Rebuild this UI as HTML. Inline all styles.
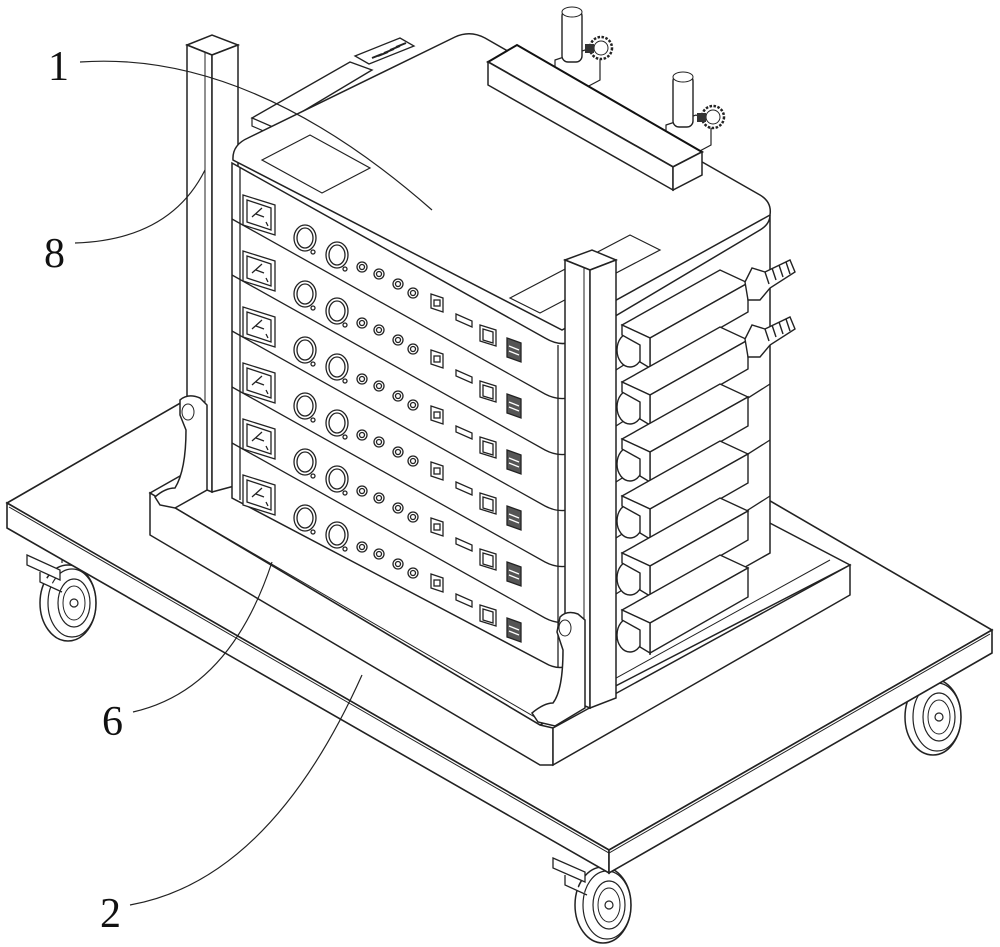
<!DOCTYPE html>
<html><head><meta charset="utf-8"><style>
html,body{margin:0;padding:0;background:#fff;}
svg{display:block}
text{font-family:"Liberation Serif",serif;font-size:42px;fill:#111}
</style></head><body>
<svg width="1000" height="947" viewBox="0 0 1000 947" xmlns="http://www.w3.org/2000/svg">
<defs>
<g id="wheel">
 <ellipse cx="0" cy="0" rx="28" ry="38" fill="#fff" stroke="#222" stroke-width="1.5"/>
 <ellipse cx="4" cy="0" rx="24" ry="34" fill="none" stroke="#222" stroke-width="1.2"/>
 <ellipse cx="6" cy="0" rx="16" ry="24" fill="none" stroke="#222" stroke-width="1.2"/>
 <ellipse cx="6" cy="0" rx="11" ry="17" fill="none" stroke="#222" stroke-width="1"/>
 <circle cx="6" cy="0" r="4" fill="#fff" stroke="#222" stroke-width="1.2"/>
 <path d="M-6,-40 L-6,-58 M14,-40 L14,-60" stroke="#222" stroke-width="1.2"/>
</g>
<g id="icons" fill="#fff" stroke="#222" stroke-width="1.3">
 <polygon points="243,195 275,205 275,235 243,225"/>
 <polygon points="247,200 271,208 271,230 247,222"/>
 <path d="M252,217 L262,208 M256,214 l8,3 M266,222 l2,4" fill="none"/>
 <ellipse cx="305" cy="238" rx="11" ry="13"/><ellipse cx="305" cy="238" rx="8" ry="10"/>
 <circle cx="313" cy="252" r="2"/>
 <ellipse cx="337" cy="255" rx="11" ry="13"/><ellipse cx="337" cy="255" rx="8" ry="10"/>
 <circle cx="345" cy="269" r="2"/>
 <circle cx="362" cy="267" r="5"/><circle cx="362" cy="267" r="2.5"/>
 <circle cx="379" cy="274" r="5"/><circle cx="379" cy="274" r="2.5"/>
 <circle cx="398" cy="284" r="5"/><circle cx="398" cy="284" r="2.5"/>
 <circle cx="413" cy="293" r="5"/><circle cx="413" cy="293" r="2.5"/>
 <polygon points="431,294 443,298 443,312 431,308"/><rect x="434" y="300" width="6" height="6"/>
 <polygon points="456,314 472,321 472,327 456,320"/>
 <polygon points="480,325 496,330 496,346 480,341"/><polygon points="483,329 493,332 493,343 483,340"/>
 <polygon points="507,338 521,343 521,362 507,357" fill="#555"/><path d="M509,346 l10,4 M509,351 l10,4" stroke="#fff"/>
</g>
<g id="conn" fill="#fff" stroke="#222" stroke-width="1.4">
 <ellipse cx="630" cy="350" rx="13" ry="17"/>
 <path d="M636,336 Q652,344 650,370"/>
 <polygon points="622,325 720,270 748,283 650,338"/>
 <polygon points="650,338 748,283 748,312 650,368"/>
 <polygon points="622,325 650,338 650,368 640,362 640,345 622,335"/>
</g>
<g id="knob">
 <circle cx="0" cy="0" r="11" fill="#fff" stroke="#222" stroke-width="2.5" stroke-dasharray="2.5 1.5"/>
 <circle cx="0" cy="0" r="7" fill="none" stroke="#222" stroke-width="1"/>
 <rect x="-16" y="-4" width="9" height="9" fill="#333"/>
</g>
</defs>

<use href="#wheel" x="68" y="603"/>
<path d="M27,555 L60,570 L60,580 L27,565 Z M40,572 l0,10 l22,10" fill="#fff" stroke="#222" stroke-width="1.3"/>
<use href="#wheel" x="933" y="717"/>
<use href="#wheel" x="603" y="905"/>
<path d="M553,858 L585,872 L585,882 L553,868 Z M565,875 l0,10 l22,10" fill="#fff" stroke="#222" stroke-width="1.3"/>

<polygon points="7,503 392,281 992,630 609,850" fill="#fff" stroke="#222" stroke-width="1.6"/>
<polygon points="7,503 609,850 609,873 7,528" fill="#fff" stroke="#222" stroke-width="1.6"/>
<polygon points="609,850 992,630 992,653 609,873" fill="#fff" stroke="#222" stroke-width="1.6"/>
<path d="M9,507 L609,853 L990,634" fill="none" stroke="#222" stroke-width="1"/>

<polygon points="150,493 420,340 850,565 540,725" fill="#fff" stroke="#222" stroke-width="1.5"/>
<polygon points="150,493 540,725 553,728 553,765 540,765 150,535" fill="#fff" stroke="#222" stroke-width="1.5"/>
<polygon points="553,728 850,565 850,595 553,765" fill="#fff" stroke="#222" stroke-width="1.5"/>
<path d="M170,505 L540,720 L830,560" fill="none" stroke="#222" stroke-width="1"/>

<polygon points="187,45 212,35 238,45 212,55" fill="#fff" stroke="#222" stroke-width="1.5"/>
<polygon points="187,45 212,55 212,492 187,482" fill="#fff" stroke="#222" stroke-width="1.5"/>
<polygon points="212,55 238,45 238,485 212,492" fill="#fff" stroke="#222" stroke-width="1.5"/>
<line x1="205" y1="52" x2="205" y2="489" stroke="#222"/>
<path d="M180,400 Q188,393 200,398 L207,405 L207,490 L175,508 L160,505 L155,497 Q165,488 175,488 Q186,470 186,430 L180,415 Z" fill="#fff" stroke="#222" stroke-width="1.5"/>
<ellipse cx="188" cy="412" rx="6" ry="8" fill="#fff" stroke="#222"/>

<!-- back-left rack on top -->
<polygon points="252,118 350,62 372,70 275,128" fill="#fff" stroke="#222" stroke-width="1.4"/>
<polygon points="252,118 275,128 275,136 252,126" fill="#fff" stroke="#222" stroke-width="1.2"/>
<polygon points="355,56 400,38 414,46 369,64" fill="#fff" stroke="#222" stroke-width="1.3"/>
<path d="M372,58 l10,-4 M378,56 l10,-4 M384,53 l10,-4 M390,50 l10,-4 M396,47 l10,-4" stroke="#222" stroke-width="2"/>

<path d="M233,160 Q232,145 248,138 L455,37 Q470,30 485,38 L760,195 Q772,202 770,215 L562,330 Z" fill="#fff" stroke="#222" stroke-width="1.5"/>
<polygon points="262,160 310,135 370,168 322,193" fill="none" stroke="#222" stroke-width="1.2"/>
<polygon points="510,298 630,235 660,250 540,313" fill="none" stroke="#222" stroke-width="1.2"/>

<!-- back posts with knobs -->
<path d="M555,60 L585,50 L600,58 L600,80 L585,88 L555,75 Z" fill="#fff" stroke="#222" stroke-width="1.2"/>
<rect x="562" y="10" width="20" height="52" rx="6" fill="#fff" stroke="#222" stroke-width="1.4"/>
<ellipse cx="572" cy="12" rx="10" ry="5" fill="#fff" stroke="#222"/>
<use href="#knob" x="601" y="48"/>
<path d="M666,125 L696,115 L711,123 L711,145 L696,153 L666,140 Z" fill="#fff" stroke="#222" stroke-width="1.2"/>
<rect x="673" y="75" width="20" height="52" rx="6" fill="#fff" stroke="#222" stroke-width="1.4"/>
<ellipse cx="683" cy="77" rx="10" ry="5" fill="#fff" stroke="#222"/>
<use href="#knob" x="713" y="117"/>
<polygon points="488,62 517,45 702,152 673,167" fill="#fff" stroke="#111" stroke-width="2"/>
<polygon points="488,62 673,167 673,190 488,85" fill="#fff" stroke="#222" stroke-width="1.5"/>
<polygon points="673,167 702,152 702,175 673,190" fill="#fff" stroke="#222" stroke-width="1.5"/>

<g fill="#fff" stroke="#222" stroke-width="1.5">
 <path d="M232,163 L545,338 Q562,348 575,340 L760,230 Q770,224 770,215 L770,553 L575,663 Q560,672 545,663 L232,498 Z"/>
</g>
<g fill="none" stroke="#222" stroke-width="1.3">
 <path d="M232,219 L545,394 Q560,402 575,396 L770,272"/>
 <path d="M232,275 L545,450 Q560,458 575,452 L770,328"/>
 <path d="M232,331 L545,506 Q560,514 575,508 L770,384"/>
 <path d="M232,387 L545,562 Q560,570 575,564 L770,440"/>
 <path d="M232,443 L545,618 Q560,626 575,620 L770,496"/>
 <line x1="240" y1="168" x2="240" y2="500"/>
 <line x1="558" y1="345" x2="558" y2="668"/>
</g>
<use href="#icons"/>
<use href="#icons" y="56"/>
<use href="#icons" y="112"/>
<use href="#icons" y="168"/>
<use href="#icons" y="224"/>
<use href="#icons" y="280"/>

<use href="#conn"/>
<use href="#conn" y="57"/>
<use href="#conn" y="114"/>
<use href="#conn" y="171"/>
<use href="#conn" y="228"/>
<use href="#conn" y="285"/>
<g fill="#fff" stroke="#222" stroke-width="1.4">
 <path d="M745,282 L752,268 L765,272 L790,260 L795,272 L770,288 L760,300 L748,300 Z"/>
 <path d="M765,272 l4,12 M772,268 l4,12 M779,265 l4,12 M786,262 l4,12"/>
 <path d="M745,339 L752,325 L765,329 L790,317 L795,329 L770,345 L760,357 L748,357 Z"/>
 <path d="M765,329 l4,12 M772,325 l4,12 M779,322 l4,12 M786,319 l4,12"/>
</g>

<polygon points="565,260 592,250 616,260 590,270" fill="#fff" stroke="#222" stroke-width="1.5"/>
<polygon points="565,260 590,270 590,708 565,698" fill="#fff" stroke="#222" stroke-width="1.5"/>
<polygon points="590,270 616,260 616,698 590,708" fill="#fff" stroke="#222" stroke-width="1.5"/>
<line x1="584" y1="267" x2="584" y2="705" stroke="#222"/>
<path d="M560,617 Q567,610 578,614 L585,620 L585,708 L555,726 L538,722 L532,713 Q544,703 553,703 Q563,690 563,650 L557,632 Z" fill="#fff" stroke="#222" stroke-width="1.5"/>
<ellipse cx="565" cy="628" rx="6" ry="8" fill="#fff" stroke="#222"/>

<g fill="none" stroke="#222" stroke-width="1.2">
 <path d="M80,62 Q250,50 432,210"/>
 <path d="M75,243 Q170,240 205,170"/>
 <path d="M133,712 Q230,690 272,562"/>
 <path d="M130,905 Q270,880 362,675"/>
</g>
<text x="48" y="80">1</text>
<text x="44" y="267">8</text>
<text x="102" y="735">6</text>
<text x="100" y="927">2</text>
</svg>
</body></html>
